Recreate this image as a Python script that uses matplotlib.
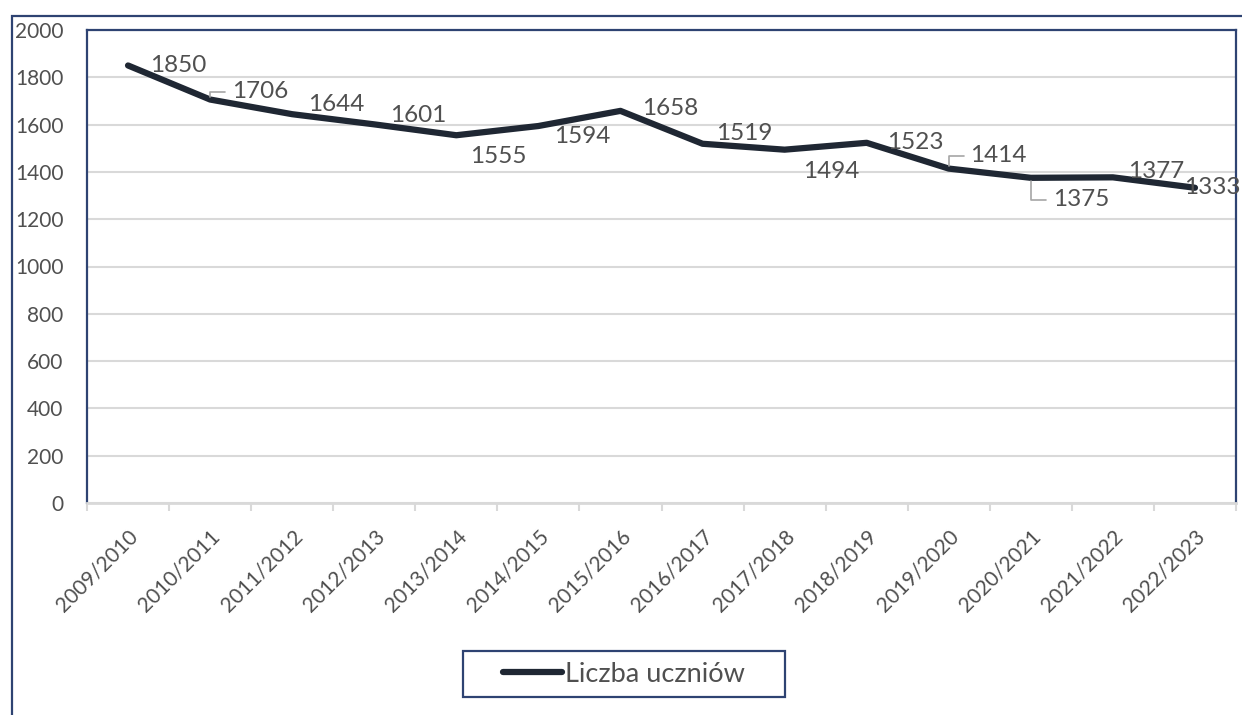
import matplotlib
matplotlib.use("Agg")
import matplotlib.pyplot as plt
import matplotlib.transforms as mtransforms
from matplotlib.patches import Rectangle
import numpy as np

plt.rcParams['font.family'] = ['Lato', 'DejaVu Sans']

categories = ["2009/2010", "2010/2011", "2011/2012", "2012/2013", "2013/2014",
              "2014/2015", "2015/2016", "2016/2017", "2017/2018", "2018/2019",
              "2019/2020", "2020/2021", "2021/2022", "2022/2023"]
values = [1850, 1706, 1644, 1601, 1555, 1594, 1658, 1519, 1494, 1523,
          1414, 1375, 1377, 1333]
series_name = "Liczba uczniów"
y_ticks = [0, 200, 400, 600, 800, 1000, 1200, 1400, 1600, 1800, 2000]

# label offsets (pixels) relative to the data point, and whether a leader line is drawn
label_offsets = [(50, 0), (50, 8), (44, 10), (44, 9), (42, -21), (44, -10), (50, 2),
                 (42, 10), (47, -22), (49, 0), (50, 13), (50, -22), (43, 6), (17, 0)]
leaders = [False, True, False, False, False, False, False,
           False, False, False, True, True, False, False]

W, H = 1242, 715
fig = plt.figure(figsize=(W / 100, H / 100), dpi=100)
fig.patch.set_facecolor("white")

navy = "#2E4372"
text_gray = "#505050"
grid_gray = "#D9D9D9"
line_col = "#1F2733"

# outer chart border (left and top visible)
fig.add_artist(Rectangle((12 / W, -0.1), 2.0, 1 - 16 / H + 0.1, transform=fig.transFigure,
                         fill=False, edgecolor=navy, linewidth=1.6))

ax = fig.add_axes([87 / W, 1 - 503 / H, (1236 - 87) / W, (503 - 30) / H])
x = np.arange(len(categories))
ax.plot(x, values, color=line_col, linewidth=4.5, solid_capstyle="round",
        solid_joinstyle="round", label=series_name, zorder=3)

ax.set_xlim(-0.5, len(categories) - 0.5)
ax.set_ylim(0, 2000)
ax.set_yticks(y_ticks)
ax.set_yticklabels([str(v) for v in y_ticks])
ax.yaxis.grid(True, color=grid_gray, linewidth=1.5)
ax.set_axisbelow(True)

for s in ["left", "top", "right"]:
    ax.spines[s].set_color(navy)
    ax.spines[s].set_linewidth(1.6)
ax.spines["bottom"].set_color(grid_gray)
ax.spines["bottom"].set_linewidth(2.0)

ax.tick_params(axis="y", length=0, pad=17, labelsize=15, labelcolor=text_gray)
ax.set_xticks(x)
ax.set_xticklabels(categories)
ax.set_xticks(np.arange(-0.5, len(categories), 1.0), minor=True)
ax.tick_params(axis="x", which="major", length=0, pad=22, labelsize=15, labelcolor=text_gray)
ax.tick_params(axis="x", which="minor", length=6, width=1.5, color=grid_gray)
offset = mtransforms.ScaledTranslation(7 / 100, 0, fig.dpi_scale_trans)
for lab in ax.get_xticklabels():
    lab.set_rotation(45)
    lab.set_ha("right")
    lab.set_va("center")
    lab.set_rotation_mode("anchor")
    lab.set_transform(lab.get_transform() + offset)

for i, v in enumerate(values):
    dx, dy = label_offsets[i]
    kw = {}
    if leaders[i]:
        kw["arrowprops"] = dict(arrowstyle="-", color="#A6A6A6", linewidth=1.2,
                                connectionstyle="angle,angleA=0,angleB=90,rad=0",
                                shrinkA=3, shrinkB=2)
    ax.annotate(str(v), xy=(x[i], v), xytext=(dx, dy), textcoords="offset pixels",
                ha="center", va="center", fontsize=17.5, color=text_gray,
                annotation_clip=False, zorder=4, **kw)

# legend box (Excel-style, with wide padding)
fig.add_artist(Rectangle((463 / W, 1 - 697 / H), (785 - 463) / W, (697 - 651) / H,
                         transform=fig.transFigure, fill=False, edgecolor=navy,
                         linewidth=1.6))
leg = fig.legend(loc="center", bbox_to_anchor=(624 / W, 1 - 674 / H),
                 frameon=False, fontsize=19.5, handlelength=2.15,
                 handletextpad=0.12, borderpad=0.0, borderaxespad=0)
for t in leg.get_texts():
    t.set_color(text_gray)

fig.savefig("out.png", dpi=100, facecolor="white")
